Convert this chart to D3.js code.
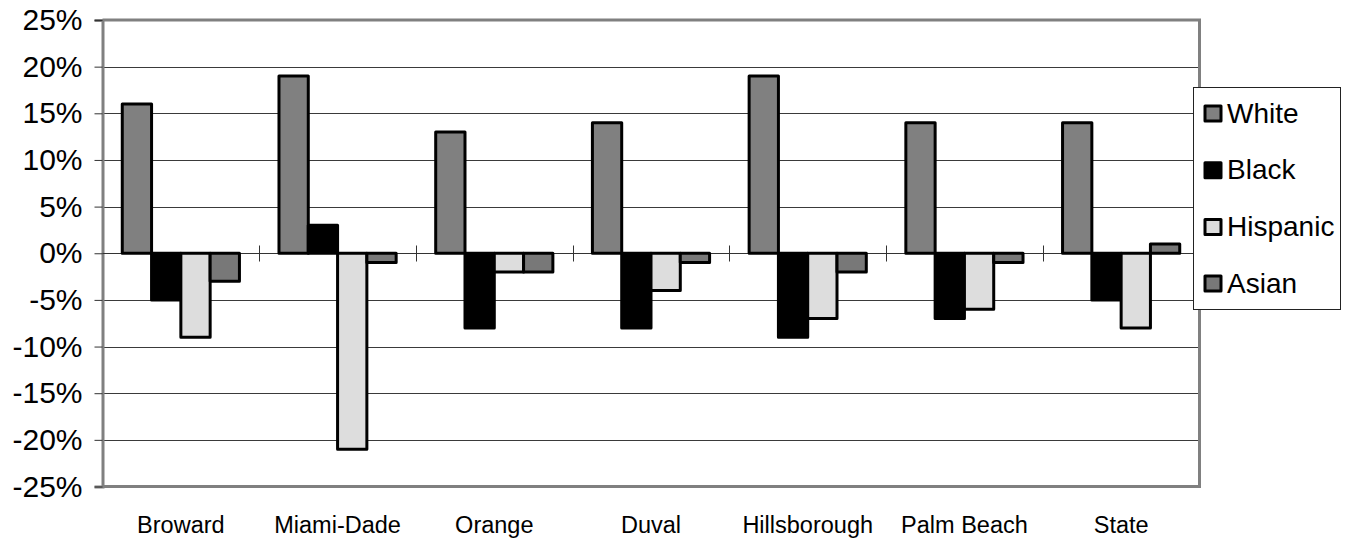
<!DOCTYPE html>
<html>
<head>
<meta charset="utf-8">
<script src="https://cdn.jsdelivr.net/npm/d3@7"></script>
<style>
  html, body { margin: 0; padding: 0; background: #fff; }
  svg { display: block; font-family: "Liberation Sans", Arial, sans-serif; }
</style>
</head>
<body>
<svg id="chart" width="1352" height="540"></svg>
<script>
// Percentage-point change by county and group
const categories = ["Broward", "Miami-Dade", "Orange", "Duval", "Hillsborough", "Palm Beach", "State"];
const seriesNames = ["White", "Black", "Hispanic", "Asian"];
const white    = [16, 19, 13, 14, 19, 14, 14];
const black    = [-5, 3, -8, -8, -9, -7, -5];
const hispanic = [-9, -21, -2, -4, -7, -6, -8];
const asian    = [-3, -1, -2, -1, -2, -1, 1];
const yTicks   = [25, 20, 15, 10, 5, 0, -5, -10, -15, -20, -25];

const seriesValues = [white, black, hispanic, asian];
const seriesFill = { White: "#808080", Black: "#000000", Hispanic: "#dddddd", Asian: "#787878" };

const svg = d3.select("#chart");
const plot = { left: 102.5, right: 1199.5, top: 20, bottom: 486.5 };

const x0 = d3.scaleBand().domain(categories).range([plot.left, plot.right]).paddingInner(0).paddingOuter(0);
const x1 = d3.scaleBand().domain(seriesNames).range([0, x0.bandwidth()]).paddingInner(0).paddingOuter(0.675);
const y = d3.scaleLinear().domain([-25, 25]).range([plot.bottom, plot.top]);

// Horizontal gridlines
svg.append("g")
  .selectAll("line")
  .data(yTicks.filter(t => t !== 25 && t !== -25 && t !== 0))
  .join("line")
  .attr("x1", plot.left).attr("x2", plot.right)
  .attr("y1", d => Math.round(y(d)) + 0.5).attr("y2", d => Math.round(y(d)) + 0.5)
  .attr("stroke", "#3a3a3a").attr("stroke-width", 1);

// Plot area frame (top, right, bottom)
svg.append("path")
  .attr("d", `M${plot.left},${plot.top} H${plot.right} V${plot.bottom} H${plot.left}`)
  .attr("fill", "none").attr("stroke", "#808080").attr("stroke-width", 3);

// Y axis
const yAxis = d3.axisLeft(y).tickValues(yTicks).tickFormat(d => d + "%").tickSize(8).tickPadding(12);
const yg = svg.append("g").attr("transform", `translate(${plot.left},0)`).call(yAxis);
yg.attr("font-size", null).attr("font-family", null);
yg.select(".domain").attr("stroke", "#808080").attr("stroke-width", 3);
yg.selectAll(".tick line").attr("stroke", "#333").attr("stroke-width", 1);
yg.selectAll(".tick text").attr("fill", "#000").attr("font-size", 30).style("font-size", "30px")
  .style("font-family", "'Liberation Sans', Arial, sans-serif");

// Zero line with category separators
const zeroY = Math.round(y(0)) + 0.5;
svg.append("line")
  .attr("x1", plot.left).attr("x2", plot.right)
  .attr("y1", zeroY).attr("y2", zeroY)
  .attr("stroke", "#333").attr("stroke-width", 1);
svg.append("g")
  .selectAll("line")
  .data(categories.slice(1))
  .join("line")
  .attr("x1", d => Math.round(x0(d)) + 0.5).attr("x2", d => Math.round(x0(d)) + 0.5)
  .attr("y1", zeroY - 8).attr("y2", zeroY + 8)
  .attr("stroke", "#333").attr("stroke-width", 1);

// Bars
const barData = [];
categories.forEach((c, i) => {
  seriesNames.forEach((s, j) => {
    barData.push({ category: c, series: s, value: seriesValues[j][i] });
  });
});
svg.append("g")
  .selectAll("rect")
  .data(barData)
  .join("rect")
  .attr("x", d => x0(d.category) + x1(d.series))
  .attr("width", x1.bandwidth())
  .attr("y", d => y(Math.max(0, d.value)))
  .attr("height", d => Math.abs(y(d.value) - y(0)))
  .attr("fill", d => seriesFill[d.series])
  .attr("stroke", "#000").attr("stroke-width", 3)
  .attr("stroke-linejoin", "round");

// Category labels
const xAxis = d3.axisBottom(x0).tickSize(0).tickPadding(0);
const xg = svg.append("g").attr("transform", `translate(0,${plot.bottom})`).call(xAxis);
xg.attr("font-size", null).attr("font-family", null);
xg.select(".domain").remove();
xg.selectAll(".tick text").attr("fill", "#000").attr("dy", null).attr("y", 46)
  .style("font-size", "23.5px").style("font-family", "'Liberation Sans', Arial, sans-serif");

// Legend
const legend = svg.append("g");
legend.append("rect")
  .attr("x", 1193.5).attr("y", 87.5).attr("width", 147).attr("height", 222)
  .attr("fill", "#fff").attr("stroke", "#222").attr("stroke-width", 1);
const items = legend.selectAll("g.item")
  .data(seriesNames)
  .join("g")
  .attr("class", "item")
  .attr("transform", (d, i) => `translate(0,${122.5 + i * 56.7})`);
items.append("rect")
  .attr("x", 1205).attr("y", -16.5).attr("width", 16).attr("height", 15)
  .attr("fill", d => seriesFill[d])
  .attr("stroke", "#000").attr("stroke-width", 3).attr("stroke-linejoin", "round");
items.append("text")
  .attr("x", 1227).attr("y", 0)
  .style("font-size", "28px")
  .text(d => d);
</script>
</body>
</html>
